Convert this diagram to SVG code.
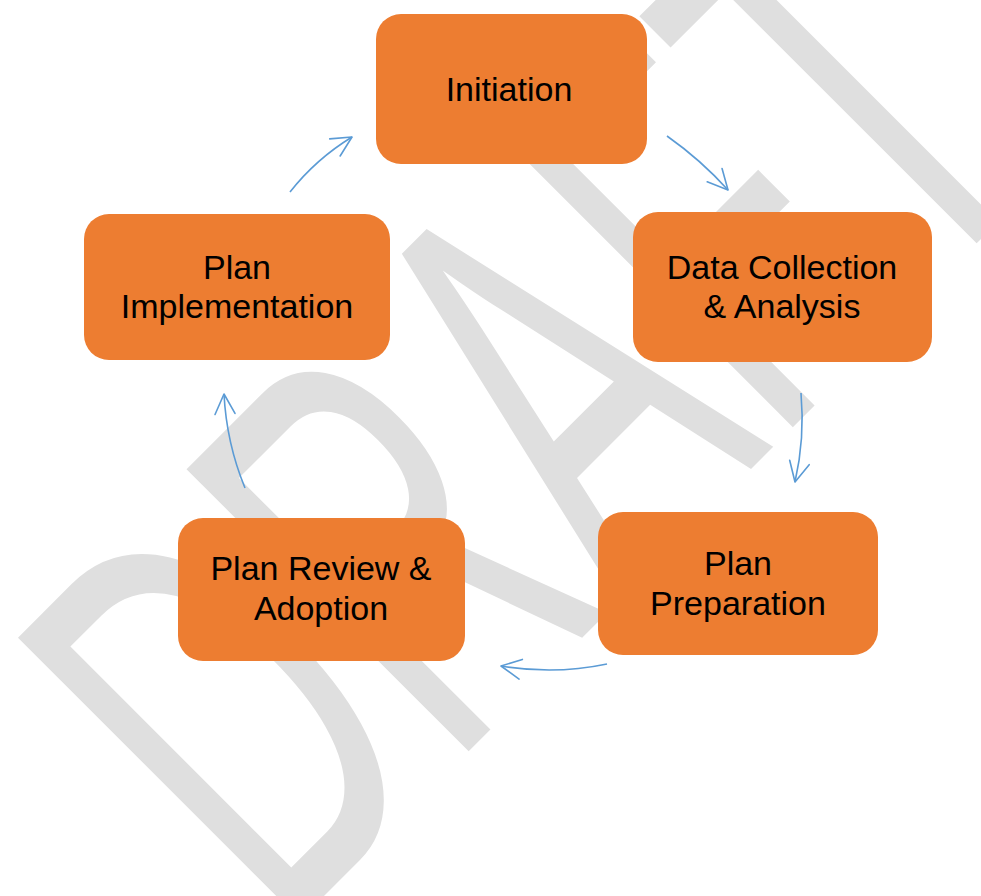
<svg xmlns="http://www.w3.org/2000/svg" width="981" height="896" viewBox="0 0 981 896">
<defs>
<style>
.box{fill:#ED7D31;}
.lbl{font-family:"Liberation Sans",Arial,sans-serif;font-size:34px;fill:#000;text-anchor:middle;}
.con{fill:none;stroke:#5B9BD5;stroke-width:1.6;marker-end:url(#ah);}
.wm{font-family:"Liberation Sans",Arial,sans-serif;font-size:580px;fill:#dfdfdf;}
</style>
<marker id="ah" markerUnits="userSpaceOnUse" orient="auto" overflow="visible" refX="0" refY="0" markerWidth="1" markerHeight="1">
<path d="M-20,-10 L0,0 L-20,10" fill="none" stroke="#5B9BD5" stroke-width="1.6" stroke-linecap="round" stroke-linejoin="round"/>
</marker>
</defs>
<rect width="981" height="896" fill="#ffffff"/>
<g id="watermark">
<text class="wm" transform="translate(281,939) rotate(-45) scale(0.569,1)" x="0" y="0">DRAFT</text>
</g>
<g id="connectors">
<path class="con" d="M290,192 Q316,159 352,137"/>
<path class="con" d="M667,136 Q701,160 728,190"/>
<path class="con" d="M801,393 Q805,438 795,482"/>
<path class="con" d="M607,664 Q555,675 501,666"/>
<path class="con" d="M245,488 Q226.5,443 224,394"/>
</g>
<g id="initiation">
<rect class="box" x="376" y="14" width="271" height="150" rx="25"/>
<text class="lbl" x="509" y="101">Initiation</text>
</g>
<g id="data-collection">
<rect class="box" x="633" y="212" width="299" height="150" rx="25"/>
<text class="lbl" x="782" y="279">Data Collection</text>
<text class="lbl" x="782" y="318">&amp; Analysis</text>
</g>
<g id="plan-preparation">
<rect class="box" x="598" y="512" width="280" height="143" rx="25"/>
<text class="lbl" x="738" y="575">Plan</text>
<text class="lbl" x="738" y="615">Preparation</text>
</g>
<g id="plan-review">
<rect class="box" x="178" y="518" width="287" height="143" rx="25"/>
<text class="lbl" x="321" y="580">Plan Review &amp;</text>
<text class="lbl" x="321" y="620">Adoption</text>
</g>
<g id="plan-implementation">
<rect class="box" x="84" y="214" width="306" height="146" rx="25"/>
<text class="lbl" x="237" y="279">Plan</text>
<text class="lbl" x="237" y="318">Implementation</text>
</g>
</svg>
